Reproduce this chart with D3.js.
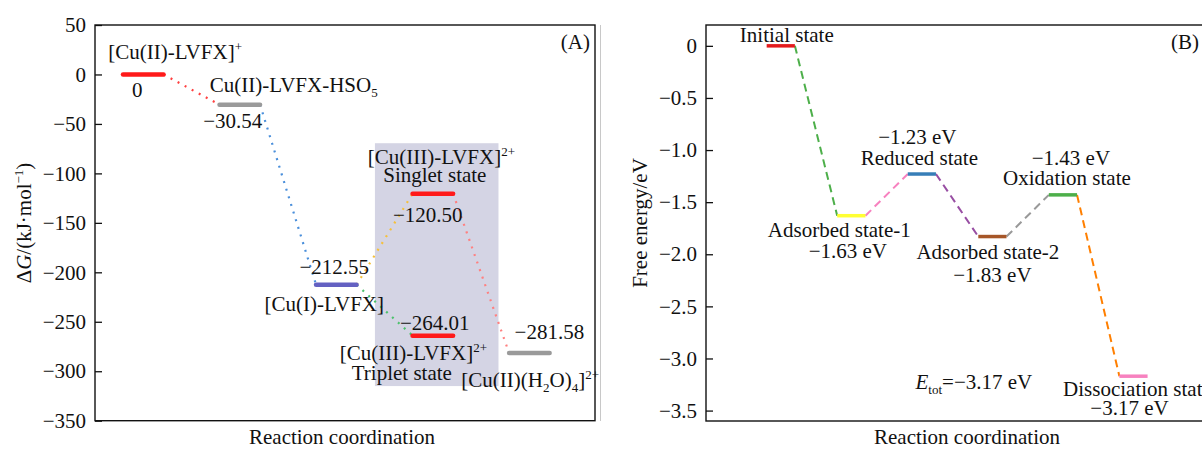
<!DOCTYPE html>
<html>
<head>
<meta charset="utf-8">
<script src="https://cdn.jsdelivr.net/npm/d3@7"></script>
<style>
  body { margin: 0; background: #fff; }
  svg text { font-family: "Liberation Serif", "Times New Roman", serif; fill: #111; }
</style>
</head>
<body>
<div id="chart"></div>
<script>
// ---- panel A data (kJ/mol) ----
const stepA = [1, 2, 3, 4, 4, 5];
const energyA = [0, -30.54, -212.55, -120.50, -264.01, -281.58];
const linksA = [[0, 1], [1, 2], [2, 3], [2, 4], [3, 5]];
const ticksA = [50, 0, -50, -100, -150, -200, -250, -300, -350];

// ---- panel B data (eV) ----
const stepB = [1, 2, 3, 4, 5, 6];
const stateB = ["Initial state", "Adsorbed state-1", "Reduced state", "Adsorbed state-2", "Oxidation state", "Dissociation state"];
const energyB = [0, -1.63, -1.23, -1.83, -1.43, -3.17];
const ticksB = [0, -0.5, -1.0, -1.5, -2.0, -2.5, -3.0, -3.5];

// styles
const barColA = ["#ff1a1a", "#9a9a9a", "#6461c2", "#ff1a1a", "#ff1a1a", "#9a9a9a"];
const linkColA = ["#ff4040", "#4a8fdb", "#f5c03c", "#4cc26c", "#ff8080"];
const barColB = ["#e41a1c", "#ffff33", "#377eb8", "#a65628", "#4daf4a", "#f781bf"];
const linkColB = ["#4daf4a", "#f781bf", "#984ea3", "#999999", "#ff7f00"];

const FS = 21;

const svg = d3.select('#chart')
  .append('svg')
  .attr('width', 1202)
  .attr('height', 450);

// write text made of plain / sup / sub / italic pieces
function rich(g, x, y, parts, anchor) {
  const t = g.append('text')
    .attr('x', x)
    .attr('y', y)
    .attr('font-size', FS)
    .attr('text-anchor', anchor || 'middle');
  let shift = 0;
  parts.forEach(p => {
    const [s, kind] = typeof p === 'string' ? [p, 'n'] : p;
    const target = kind === 'sup' ? -8 : kind === 'sub' ? 5 : 0;
    const ts = t.append('tspan').attr('dy', target - shift).text(s);
    shift = target;
    if (kind === 'sup' || kind === 'sub') ts.attr('font-size', 13);
    if (kind === 'i') ts.attr('font-style', 'italic');
  });
  return t;
}

function frameAxis(g, x, y, ticks, fmt) {
  g.append('g')
    .attr('transform', `translate(${x.range()[0]},0)`)
    .call(d3.axisLeft(y).tickValues(ticks).tickFormat(fmt)
      .tickSizeInner(-7).tickSizeOuter(0).tickPadding(9))
    .call(a => a.select('.domain').remove())
    .call(a => a.selectAll('line').attr('stroke', '#111').attr('stroke-width', 1.3))
    .call(a => a.selectAll('text')
      .attr('font-size', FS)
      .attr('font-family', '"Liberation Serif", serif')
      .attr('fill', '#111'));

  g.append('rect')
    .attr('x', x.range()[0])
    .attr('y', y.range()[1])
    .attr('width', x.range()[1] - x.range()[0])
    .attr('height', y.range()[0] - y.range()[1])
    .attr('fill', 'none')
    .attr('stroke', '#111')
    .attr('stroke-width', 1.4);
}

// ================= Panel A =================
const xA = d3.scaleLinear().domain([0.5, 5.68]).range([95, 595]);
const yA = d3.scaleLinear().domain([-350, 50]).range([420.7, 25]);
const gA = svg.append('g');
const hwA = 0.21;

// shaded box around the Cu(III) states
gA.append('rect')
  .attr('x', xA(3.4))
  .attr('y', yA(-69.5))
  .attr('width', xA(4.68) - xA(3.4))
  .attr('height', yA(-315) - yA(-69.5))
  .attr('fill', '#d4d4e4');

frameAxis(gA, xA, yA, ticksA, d3.format('d'));

// dotted connectors
linksA.forEach(([a, b], i) => {
  gA.append('line')
    .attr('x1', xA(stepA[a] + hwA)).attr('y1', yA(energyA[a]))
    .attr('x2', xA(stepA[b] - hwA)).attr('y2', yA(energyA[b]))
    .attr('stroke', linkColA[i])
    .attr('stroke-width', 2.2)
    .attr('stroke-dasharray', '2,6');
});

// energy levels
energyA.forEach((e, i) => {
  gA.append('line')
    .attr('x1', xA(stepA[i] - hwA)).attr('x2', xA(stepA[i] + hwA))
    .attr('y1', yA(e)).attr('y2', yA(e))
    .attr('stroke', barColA[i])
    .attr('stroke-width', 4.5)
    .attr('stroke-linecap', 'round');
});

const fmtA = d => d === 0 ? '0' : d3.format('.2f')(d);
const pA = i => [xA(stepA[i]), yA(energyA[i])];

// labels, offsets in px from each level's centre
let [cx, cy] = pA(0);
rich(gA, cx - 35, cy - 15, ['[Cu(II)-LVFX]', ['+', 'sup']], 'start');
rich(gA, cx - 6, cy + 23, [fmtA(energyA[0])]);
[cx, cy] = pA(1);
rich(gA, cx - 30, cy - 13, ['Cu(II)-LVFX-HSO', ['5', 'sub']], 'start');
rich(gA, cx - 7, cy + 23, [fmtA(energyA[1])]);
[cx, cy] = pA(2);
rich(gA, cx - 2, cy - 11, [fmtA(energyA[2])]);
rich(gA, cx - 12, cy + 26, ['[Cu(I)-LVFX]']);
[cx, cy] = pA(3);
rich(gA, cx - 65, cy - 30, ['[Cu(III)-LVFX]', ['2+', 'sup']], 'start');
rich(gA, cx + 2, cy - 12, ['Singlet state']);
rich(gA, cx - 5, cy + 28, [fmtA(energyA[3])]);
[cx, cy] = pA(4);
rich(gA, cx + 2, cy - 6, [fmtA(energyA[4])]);
rich(gA, cx - 93, cy + 24, ['[Cu(III)-LVFX]', ['2+', 'sup']], 'start');
rich(gA, cx - 31, cy + 44, ['Triplet state']);
[cx, cy] = pA(5);
rich(gA, cx + 20, cy - 14, [fmtA(energyA[5])]);
rich(gA, cx - 68, cy + 34, ['[Cu(II)(H', ['2', 'sub'], 'O)', ['4', 'sub'], ']', ['2+', 'sup']], 'start');

rich(gA, 590, 49, ['(A)'], 'end');
rich(gA, 342, 444, ['Reaction coordination']);
rich(gA, 0, 0, ['Δ', ['G', 'i'], '/(kJ·mol', ['−1', 'sup'], ')'])
  .attr('transform', 'translate(31,223) rotate(-90)');

// thin divider between the two pictures
svg.append('line')
  .attr('x1', 600.5).attr('x2', 600.5).attr('y1', 25).attr('y2', 421)
  .attr('stroke', '#c8c8c8').attr('stroke-width', 1);

// ================= Panel B =================
const xB = d3.scaleLinear().domain([-0.06, 7.34]).range([706, 1228]);
const yB = d3.scaleLinear().domain([-3.6, 0.2]).range([421, 25]);
const gB = svg.append('g');
const hwB = 0.2;

frameAxis(gB, xB, yB, ticksB, d => d === 0 ? '0' : d3.format('.1f')(d));

// dashed connectors between neighbouring states
d3.pairs(d3.range(energyB.length)).forEach(([a, b], i) => {
  gB.append('line')
    .attr('x1', xB(stepB[a] + hwB)).attr('y1', yB(energyB[a]))
    .attr('x2', xB(stepB[b] - hwB)).attr('y2', yB(energyB[b]))
    .attr('stroke', linkColB[i])
    .attr('stroke-width', 2)
    .attr('stroke-dasharray', '8,5');
});

energyB.forEach((e, i) => {
  gB.append('line')
    .attr('x1', xB(stepB[i] - hwB)).attr('x2', xB(stepB[i] + hwB))
    .attr('y1', yB(e)).attr('y2', yB(e))
    .attr('stroke', barColB[i])
    .attr('stroke-width', 3.5);
});

const fmtB = d => d3.format('.2f')(d) + ' eV';
// [dx, dy] of name and value, relative to the level centre
const nameOff = [[6, -4], [-12, 21], [-2.5, -9], [-4.5, 22], [4, -9.6], [4, 20.3]];
const valOff = [null, [-3.5, 42], [-4.5, -30], [0, 45.5], [8, -29.6], [-4, 39.3]];
energyB.forEach((e, i) => {
  const x = xB(stepB[i]), y = yB(e);
  rich(gB, x + nameOff[i][0], y + nameOff[i][1], [stateB[i]]);
  if (valOff[i]) rich(gB, x + valOff[i][0], y + valOff[i][1], [fmtB(e)]);
});

rich(gB, xB(2.91), yB(-3.29), [['E', 'i'], ['tot', 'sub'], '=', d3.format('.2f')(d3.min(energyB)) + ' eV'], 'start');
rich(gB, 1199, 49, ['(B)'], 'end');
rich(gB, 967, 444, ['Reaction coordination']);
rich(gB, 0, 0, ['Free energy/eV'])
  .attr('transform', 'translate(647,223) rotate(-90)');
</script>
</body>
</html>
